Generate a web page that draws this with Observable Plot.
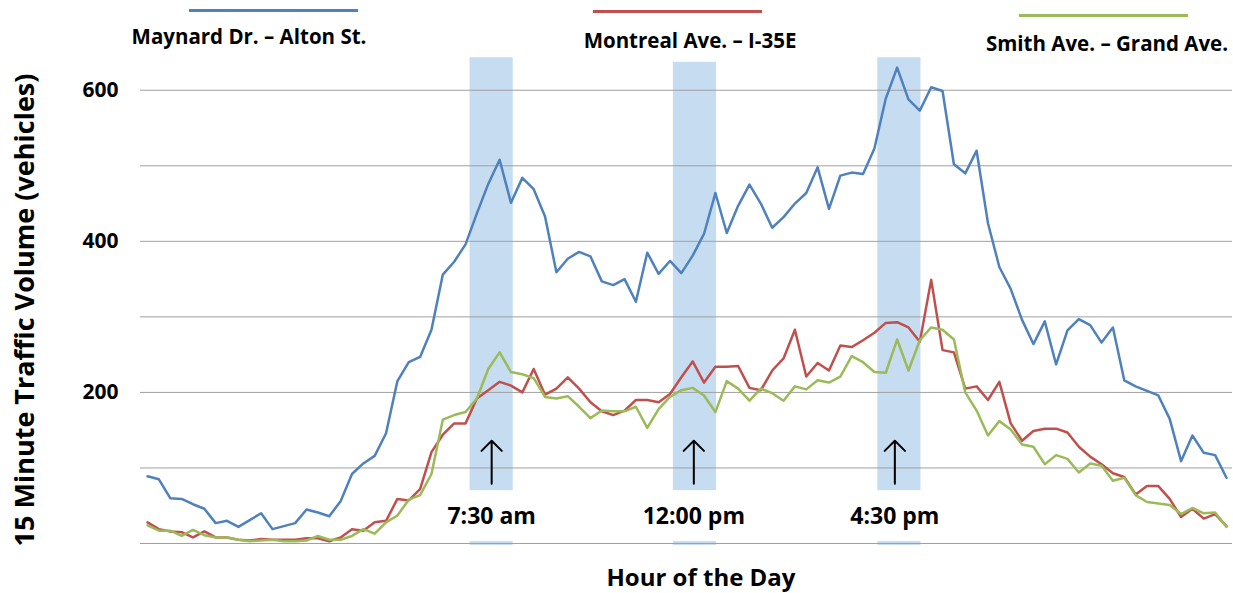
<!DOCTYPE html>
<html>
<head>
<meta charset="utf-8">
<script src="https://cdn.jsdelivr.net/npm/d3@7"></script>
<script src="https://cdn.jsdelivr.net/npm/@observablehq/plot@0.6"></script>
<style>
  html, body { margin: 0; padding: 0; background: #fff; }
  #wrap { position: relative; width: 1233px; height: 593px; font-family: "Open Sans", sans-serif; font-weight: bold; color: #000; }
  #wrap svg { position: absolute; left: 0; top: 0; }
  .leg-line { position: absolute; height: 3px; }
  .txt { position: absolute; white-space: nowrap; transform: translate(-50%, -50%); line-height: 1; }
  .ytitle { position: absolute; white-space: nowrap; line-height: 1; transform: translate(-50%, -50%) rotate(-90deg); }
</style>
</head>
<body>
<div id="wrap"></div>
<script>
// ---- data ----
const seriesNames = ["Maynard Dr. – Alton St.", "Montreal Ave. – I-35E", "Smith Ave. – Grand Ave."];
const seriesColors = ["#4f81bd", "#c0504d", "#9bbb59"];

// 15-minute intervals, index 0 = 00:00 ... 95 = 23:45
const maynard = [89,85,60,59,52,46,27,30,22,31,40,19,23,27,45,41,36,56,92,106,116,146,215,240,247,283,356,373,396,437,476,508,451,484,469,433,359,377,386,380,347,342,350,320,385,357,374,358,381,410,464,411,447,475,450,418,432,450,464,498,443,487,491,489,523,589,630,588,573,604,599,502,490,520,424,366,337,296,264,294,237,282,297,289,266,286,216,208,202,196,165,109,143,120,117,87];
const montreal = [28,19,16,15,8,16,8,8,5,4,6,5,5,5,7,7,3,8,19,17,28,30,59,57,72,121,144,159,159,192,203,214,209,200,231,197,205,220,205,187,175,170,176,190,190,187,198,220,241,213,234,234,235,206,203,229,245,283,221,239,229,262,260,269,279,292,293,286,267,349,256,253,205,208,190,214,159,136,149,152,152,147,128,115,105,93,88,65,76,76,59,35,46,33,39,23];
const smith = [24,17,17,10,18,11,8,8,5,3,4,5,3,3,4,10,5,5,10,19,13,28,37,58,64,92,164,170,174,192,231,253,227,224,219,194,192,195,181,166,176,175,175,181,153,178,194,203,206,196,174,215,205,189,205,199,189,208,204,216,213,221,248,240,227,226,270,229,269,286,283,270,200,176,143,162,151,131,128,105,117,112,94,106,103,83,87,64,55,53,51,39,47,40,41,22];

const peakLabels = ["7:30 am", "12:00 pm", "4:30 pm"];
const peakCenter = [30.3, 48.1, 65.8];   // interval index of the peak time
const bandStart = [28.4, 46.3, 64.3];
const bandEnd = [32.2, 50.1, 68.1];
const bandTop = [643, 637, 643];

const yTicks = [200, 400, 600];
const gridValues = [0, 100, 200, 300, 400, 500, 600];

// ---- build table ----
const allSeries = [maynard, montreal, smith];
const rows = [];
allSeries.forEach((vals, s) => vals.forEach((v, t) => rows.push({t, v, s: seriesNames[s]})));

const bandFill = "#c6dcf0";

const chart = Plot.plot({
  width: 1233,
  height: 593,
  marginLeft: 140,
  marginRight: 1,
  marginTop: 55,
  marginBottom: 50,
  style: {fontFamily: "'Open Sans', sans-serif", background: "transparent", color: "#000"},
  x: {domain: [-0.62, 95.53], axis: null},
  y: {domain: [0, 646], axis: null},
  color: {domain: seriesNames, range: seriesColors},
  marks: [
    // highlight bands (split to leave room for the labels)
    Plot.rect(peakLabels, {x1: (d, i) => bandStart[i], x2: (d, i) => bandEnd[i], y1: 70, y2: (d, i) => bandTop[i], fill: bandFill}),
    Plot.rect(peakLabels, {x1: (d, i) => bandStart[i], x2: (d, i) => bandEnd[i], y1: -2.5, y2: 2.5, fill: bandFill}),
    Plot.ruleY(gridValues, {stroke: "#a0a0a0", strokeWidth: 1}),
    Plot.axisY(yTicks, {tickSize: 0, tickPadding: 22, fontSize: 21, fontWeight: "bold", label: null, fill: "#000"}),
    Plot.line(rows, {x: "t", y: "v", z: "s", stroke: "s", strokeWidth: 2.5, strokeLinejoin: "round"}),
    Plot.arrow(peakLabels, {x: (d, i) => peakCenter[i], y1: 79, y2: 136, stroke: "#000", strokeWidth: 2, headLength: 13, headAngle: 90}),
    Plot.text(peakLabels, {x: (d, i) => peakCenter[i], y: 36, text: d => d, fontSize: 23, fontWeight: "bold", fill: "#000"})
  ]
});

const wrap = document.getElementById("wrap");
wrap.appendChild(chart);

// legend (above the plot area) and axis titles
const legendLines = [[189, 358, 9], [593, 762, 10], [1019, 1188, 14]];
const legendText = [[249, 36], [690, 40], [1107, 43]];
seriesNames.forEach((name, i) => {
  const l = document.createElement("div");
  l.className = "leg-line";
  l.style.left = legendLines[i][0] + "px";
  l.style.width = (legendLines[i][1] - legendLines[i][0]) + "px";
  l.style.top = legendLines[i][2] + "px";
  l.style.background = seriesColors[i];
  wrap.appendChild(l);
  const t = document.createElement("div");
  t.className = "txt";
  t.style.left = legendText[i][0] + "px";
  t.style.top = legendText[i][1] + "px";
  t.style.fontSize = "20.5px";
  t.textContent = name;
  wrap.appendChild(t);
});

const xt = document.createElement("div");
xt.className = "txt";
xt.style.left = "701px";
xt.style.top = "577px";
xt.style.fontSize = "24px";
xt.textContent = "Hour of the Day";
wrap.appendChild(xt);

const yt = document.createElement("div");
yt.className = "ytitle";
yt.style.left = "23px";
yt.style.top = "310px";
yt.style.fontSize = "27px";
yt.textContent = "15 Minute Traffic Volume (vehicles)";
wrap.appendChild(yt);
</script>
</body>
</html>
